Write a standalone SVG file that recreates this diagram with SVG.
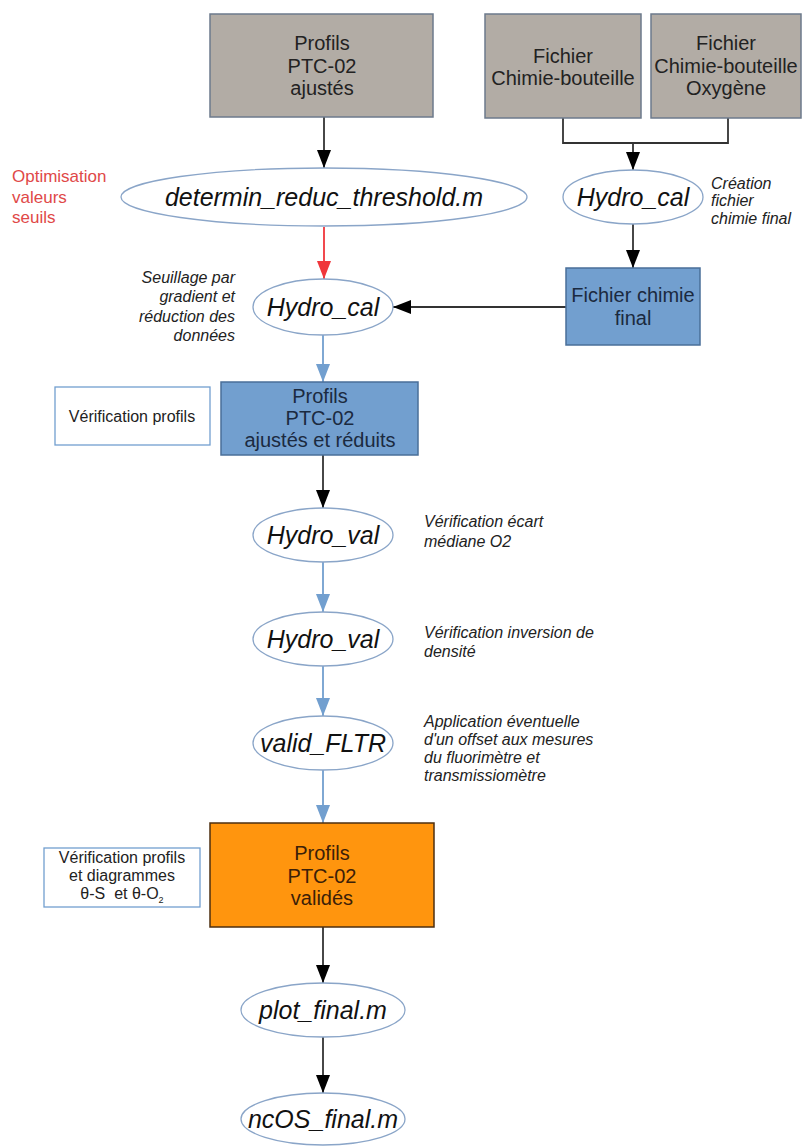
<svg xmlns="http://www.w3.org/2000/svg" width="806" height="1146" viewBox="0 0 806 1146">
<style>
text{font-family:"Liberation Sans",Arial,sans-serif;}
.gbox{fill:#b2aca5;stroke:#6c7a8c;stroke-width:1.5;}
.bbox{fill:#729fcf;stroke:#4a6f99;stroke-width:1.5;}
.obox{fill:#ff950e;stroke:#4d2f10;stroke-width:1.5;}
.wbox{fill:#ffffff;stroke:#729fcf;stroke-width:1.3;}
.ell{fill:#ffffff;stroke:#8aa5c8;stroke-width:1.3;}
.bt{font-size:20px;fill:#222222;text-anchor:middle;}
.bt2{font-size:20px;fill:#1b2a40;text-anchor:middle;}
.ot{font-size:20px;fill:#3b2008;text-anchor:middle;}
.et{font-size:25px;font-style:italic;fill:#111111;text-anchor:middle;}
.an{font-size:16px;font-style:italic;fill:#222222;}
.wt{font-size:16px;fill:#222222;text-anchor:middle;}
.red{font-size:17px;fill:#e04848;}
.k{fill:none;stroke:#333333;stroke-width:1.8;}
.bl{fill:none;stroke:#729fcf;stroke-width:1.8;}
.rd{fill:none;stroke:#f0363b;stroke-width:1.8;}
</style>
<defs>
<marker id="ak" viewBox="0 0 18 14" refX="18" refY="7" markerWidth="18" markerHeight="14" orient="auto" markerUnits="userSpaceOnUse"><path d="M0,0 L18,7 L0,14 Z" fill="#000000"/></marker>
<marker id="ab" viewBox="0 0 18 14" refX="18" refY="7" markerWidth="18" markerHeight="14" orient="auto" markerUnits="userSpaceOnUse"><path d="M0,0 L18,7 L0,14 Z" fill="#729fcf"/></marker>
<marker id="ar" viewBox="0 0 18 14" refX="18" refY="7" markerWidth="18" markerHeight="14" orient="auto" markerUnits="userSpaceOnUse"><path d="M0,0 L18,7 L0,14 Z" fill="#f0363b"/></marker>
</defs>

<g id="connectors">
<path class="k" d="M324,117 L324,168" marker-end="url(#ak)"/>
<path class="k" d="M563,118 L563,143 L728,143 L728,118"/>
<path class="k" d="M633,143 L633,170" marker-end="url(#ak)"/>
<path class="k" d="M633,224 L633,268" marker-end="url(#ak)"/>
<path class="k" d="M566,307 L393,307" marker-end="url(#ak)"/>
<path class="rd" d="M324,227 L324,279" marker-end="url(#ar)"/>
<path class="bl" d="M323,335 L323,382" marker-end="url(#ab)"/>
<path class="k" d="M323,455 L323,508" marker-end="url(#ak)"/>
<path class="bl" d="M323,562 L323,612" marker-end="url(#ab)"/>
<path class="bl" d="M323,666 L323,716" marker-end="url(#ab)"/>
<path class="bl" d="M323,770 L323,823" marker-end="url(#ab)"/>
<path class="k" d="M323,927 L323,983" marker-end="url(#ak)"/>
<path class="k" d="M323,1037 L323,1093" marker-end="url(#ak)"/>
</g>

<g id="n_profils_ajustes">
<rect class="gbox" x="210" y="14" width="223" height="103"/>
<text class="bt" x="322" y="50">Profils</text>
<text class="bt" x="322" y="72.5">PTC-02</text>
<text class="bt" x="322" y="95">ajustés</text>
</g>

<g id="n_fichier_chimie">
<rect class="gbox" x="485" y="14" width="156" height="104"/>
<text class="bt" x="563" y="62.5">Fichier</text>
<text class="bt" x="563" y="85">Chimie-bouteille</text>
</g>

<g id="n_fichier_oxygene">
<rect class="gbox" x="651" y="14" width="150" height="104"/>
<text class="bt" x="726" y="50">Fichier</text>
<text class="bt" x="726" y="72.5">Chimie-bouteille</text>
<text class="bt" x="726" y="95">Oxygène</text>
</g>

<g id="n_optim_label">
<text class="red" x="12" y="182">Optimisation</text>
<text class="red" x="12" y="203">valeurs</text>
<text class="red" x="12" y="223">seuils</text>
</g>

<g id="n_determin">
<ellipse class="ell" cx="324" cy="197" rx="203" ry="29"/>
<text class="et" x="324" y="206">determin_reduc_threshold.m</text>
</g>

<g id="n_hydro_cal_1">
<ellipse class="ell" cx="633" cy="197" rx="70" ry="27"/>
<text class="et" x="633" y="206">Hydro_cal</text>
</g>

<g id="n_creation_label">
<text class="an" x="711" y="189">Création</text>
<text class="an" x="711" y="206">fichier</text>
<text class="an" x="711" y="224">chimie final</text>
</g>

<g id="n_fichier_final">
<rect class="bbox" x="566" y="268" width="134" height="77"/>
<text class="bt2" x="633" y="302">Fichier chimie</text>
<text class="bt2" x="633" y="325">final</text>
</g>

<g id="n_seuillage_label">
<text class="an" x="235" y="283" text-anchor="end">Seuillage par</text>
<text class="an" x="235" y="302" text-anchor="end">gradient et</text>
<text class="an" x="235" y="322" text-anchor="end">réduction des</text>
<text class="an" x="235" y="341" text-anchor="end">données</text>
</g>

<g id="n_hydro_cal_2">
<ellipse class="ell" cx="323" cy="307" rx="70" ry="28"/>
<text class="et" x="323" y="316">Hydro_cal</text>
</g>

<g id="n_verif_profils">
<rect class="wbox" x="55" y="387" width="155" height="58"/>
<text class="wt" x="132" y="422">Vérification profils</text>
</g>

<g id="n_profils_reduits">
<rect class="bbox" x="221" y="382" width="197" height="73"/>
<text class="bt2" x="320" y="403">Profils</text>
<text class="bt2" x="320" y="425">PTC-02</text>
<text class="bt2" x="320" y="447">ajustés et réduits</text>
</g>

<g id="n_hydro_val_1">
<ellipse class="ell" cx="323" cy="535" rx="70" ry="27"/>
<text class="et" x="323" y="544">Hydro_val</text>
</g>
<g id="n_ecart_label">
<text class="an" x="424" y="527">Vérification écart</text>
<text class="an" x="424" y="547">médiane O2</text>
</g>

<g id="n_hydro_val_2">
<ellipse class="ell" cx="323" cy="639" rx="70" ry="27"/>
<text class="et" x="323" y="648">Hydro_val</text>
</g>
<g id="n_inversion_label">
<text class="an" x="424" y="638">Vérification inversion de</text>
<text class="an" x="424" y="657">densité</text>
</g>

<g id="n_valid_fltr">
<ellipse class="ell" cx="323" cy="743" rx="70" ry="27"/>
<text class="et" x="323" y="752">valid_FLTR</text>
</g>
<g id="n_offset_label">
<text class="an" x="424" y="727">Application éventuelle</text>
<text class="an" x="424" y="745">d'un offset aux mesures</text>
<text class="an" x="424" y="763">du fluorimètre et</text>
<text class="an" x="424" y="781">transmissiomètre</text>
</g>

<g id="n_verif_diagrammes">
<rect class="wbox" x="44" y="848" width="156" height="59"/>
<text class="wt" x="122" y="863">Vérification profils</text>
<text class="wt" x="122" y="881">et diagrammes</text>
<text class="wt" x="122" y="899">θ-S&#160; et θ-O<tspan font-size="9" dy="4">2</tspan></text>
</g>

<g id="n_profils_valides">
<rect class="obox" x="210" y="823" width="224" height="104"/>
<text class="ot" x="322" y="860">Profils</text>
<text class="ot" x="322" y="882.5">PTC-02</text>
<text class="ot" x="322" y="905">validés</text>
</g>

<g id="n_plot_final">
<ellipse class="ell" cx="323" cy="1010" rx="82" ry="27"/>
<text class="et" x="323" y="1019">plot_final.m</text>
</g>

<g id="n_ncos_final">
<ellipse class="ell" cx="323" cy="1119" rx="82" ry="26"/>
<text class="et" x="323" y="1128">ncOS_final.m</text>
</g>
</svg>
